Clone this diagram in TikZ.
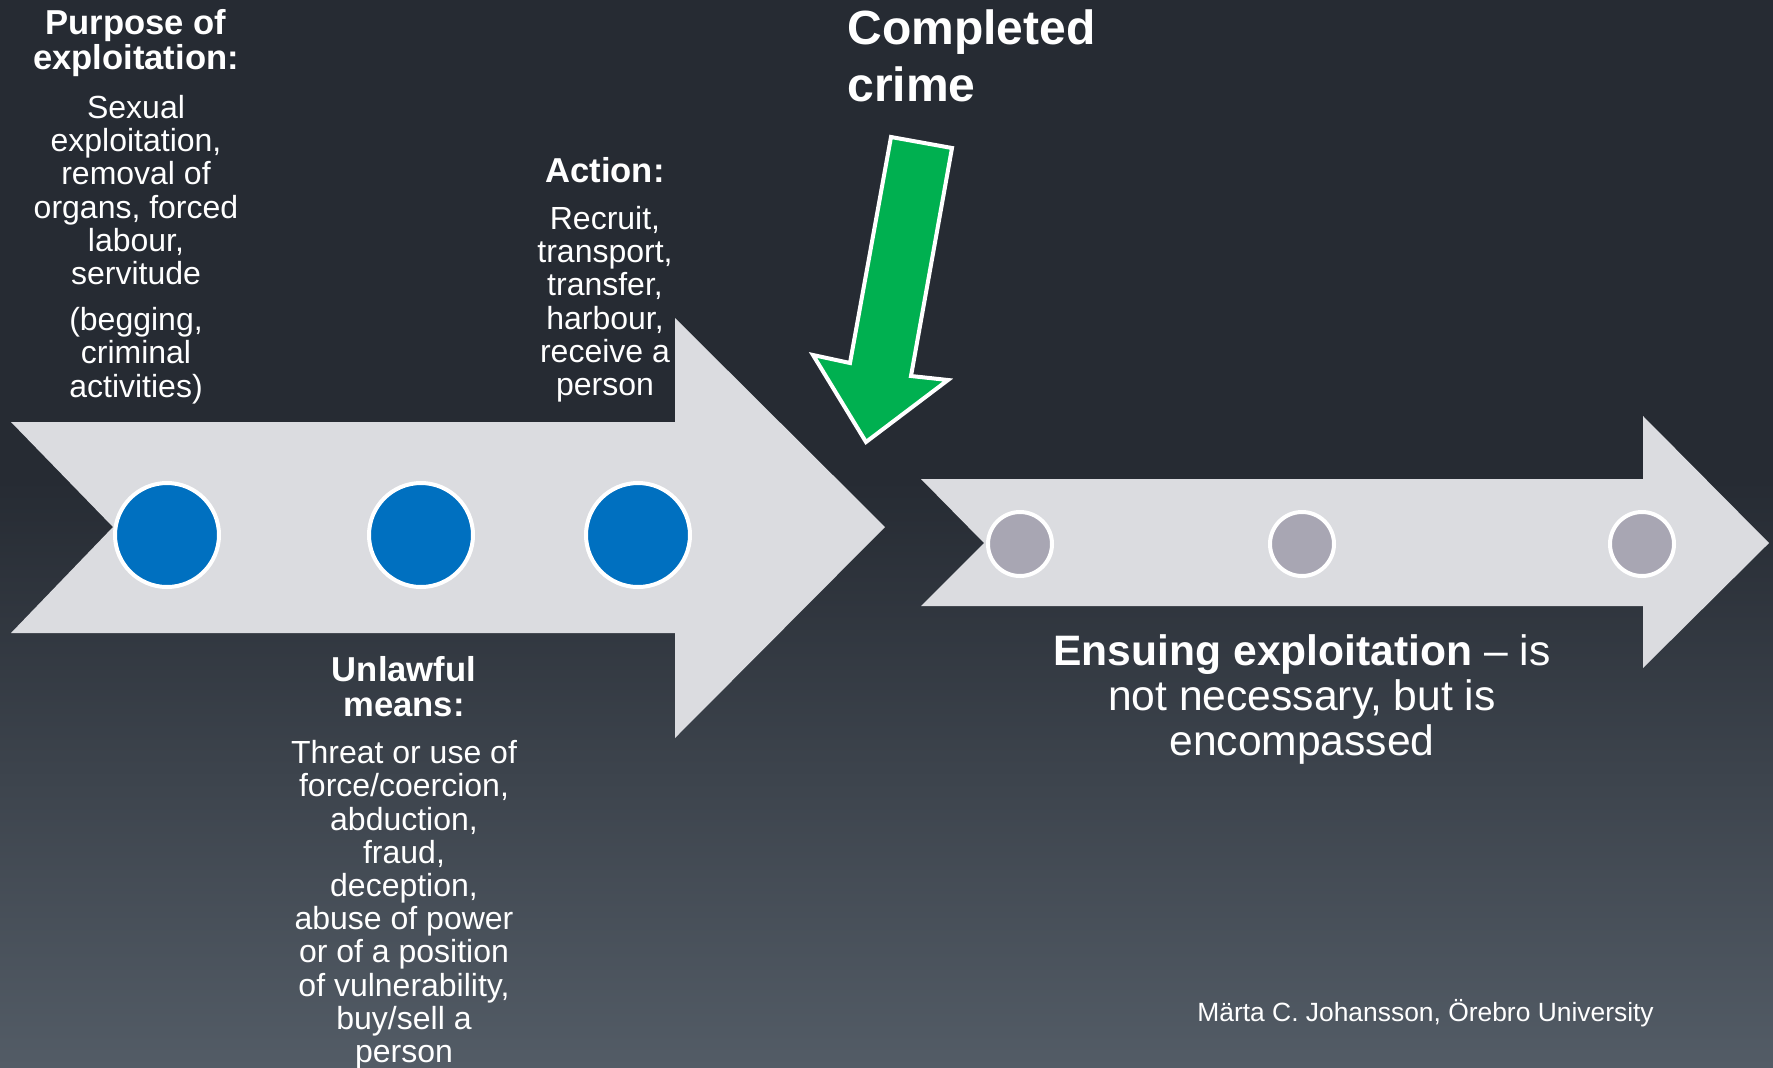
\documentclass[tikz,border=0pt]{standalone}
\usepackage{fontspec}
\setmainfont{Liberation Sans}
\definecolor{bgtop}{HTML}{262B33}
\definecolor{bgbot}{HTML}{535C66}
\definecolor{arrowgrey}{HTML}{DBDCE0}
\definecolor{dotblue}{HTML}{0070C0}
\definecolor{dotgrey}{HTML}{A8A6B3}
\definecolor{crimegreen}{HTML}{00B050}

\begin{document}
\begin{tikzpicture}[x=0.5pt,y=-0.5pt]

\tikzset{bluedot/.style = {shape=circle,draw=white,line width=2pt,fill=dotblue,minimum size=52pt,inner sep=0pt}}
\tikzset{greydot/.style = {shape=circle,draw=white,line width=2pt,fill=dotgrey,minimum size=32pt,inner sep=0pt}}
\tikzset{heading/.style = {text=white,align=center,inner sep=0pt,font=\bfseries\fontsize{17.3}{17.5}\selectfont}}
\tikzset{body/.style = {text=white,align=center,inner sep=0pt,font=\fontsize{16}{16.6}\selectfont}}
% background
\useasboundingbox (0,0) rectangle (1773,1067);
\fill[bgtop] (0,0) rectangle (1773,1067);
\shade[top color=bgtop,bottom color=bgbot] (0,480) rectangle (1773,1067);
% arrows
\fill[arrowgrey] (11,422) -- (675,422) -- (675,318) -- (885,527) -- (675,738) -- (675,633) -- (11,633) -- (113,527) -- cycle;
\fill[arrowgrey] (921,479) -- (1643,479) -- (1643,416) -- (1769,543) -- (1643,668) -- (1643,606) -- (921,606) -- (984,543) -- cycle;
\draw[white,line width=2pt,fill=crimegreen] (891,137) -- (952,148) -- (911,376) -- (948,380) -- (866,442) -- (813,355) -- (850,363) -- cycle;
% dots
\node[bluedot] (b1) at (167,535) {};
\node[bluedot] (b2) at (421,535) {};
\node[bluedot] (b3) at (638,535) {};
\node[greydot] (g1) at (1020,544) {};
\node[greydot] (g2) at (1302,544) {};
\node[greydot] (g3) at (1642,544) {};
% labels
\node[heading,anchor=north] (purposehead) at (136,9) {Purpose of\\exploitation:};
\node[body,anchor=north] (purposetext) at (136,95) {Sexual\\exploitation,\\removal of\\organs, forced\\labour,\\servitude\\[6.5pt](begging,\\criminal\\activities)};
\node[heading,anchor=north] (actionhead) at (605,157) {Action:};
\node[body,anchor=north] (actiontext) at (605,206) {Recruit,\\transport,\\transfer,\\harbour,\\receive a\\person};
\node[heading,anchor=north] (meanshead) at (404,656) {Unlawful\\means:};
\node[body,anchor=north] (meanstext) at (404,740) {Threat or use of\\force/coercion,\\abduction,\\fraud,\\deception,\\abuse of power\\or of a position\\of vulnerability,\\buy/sell a\\person};
\node[anchor=north west,text=white,align=left,inner sep=0pt,font=\bfseries\fontsize{24}{28.5}\selectfont] (crime) at (847,9) {Completed\\crime};
\node[anchor=north,text=white,align=center,inner sep=0pt,font=\fontsize{21.3}{22.5}\selectfont] (ensuing) at (1302,634) {\textbf{Ensuing exploitation} -- is\\not necessary, but is\\encompassed};
\node[anchor=base west,text=white,inner sep=0pt,font=\fontsize{13.2}{15}\selectfont] (credit) at (1197,1021) {Märta C. Johansson, Örebro University};
\end{tikzpicture}
\end{document}
